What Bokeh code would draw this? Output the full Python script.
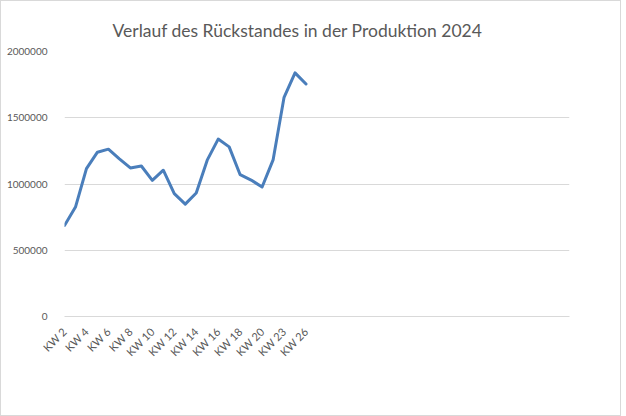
import math
from bokeh.plotting import figure
from bokeh.models import Range1d, FixedTicker, Title
from bokeh.embed import file_html
from bokeh.resources import INLINE

# ---- data ----
weeks = ["KW 2", "KW 3", "KW 4", "KW 5", "KW 6", "KW 7", "KW 8", "KW 9", "KW 10",
         "KW 11", "KW 12", "KW 13", "KW 14", "KW 15", "KW 16", "KW 17", "KW 18",
         "KW 19", "KW 20", "KW 22", "KW 23", "KW 25", "KW 26"]
rueckstand = [687000, 826000, 1116000, 1240000, 1263000, 1190000, 1121000, 1136000,
              1028000, 1104000, 927000, 848000, 932000, 1180000, 1339000, 1280000,
              1070000, 1030000, 977000, 1182000, 1654000, 1839000, 1755000]
y_ticks = [0, 500000, 1000000, 1500000, 2000000]
title_text = "Verlauf des Rückstandes in der Produktion 2024"

# category slots on the axis (remaining slots are empty rows)
n_slots = 47
FONT = "Lato"
GREY = "#595959"
GRID = "#d9d9d9"

x = list(range(len(weeks)))

p = figure(width=621, height=416, output_backend="svg", toolbar_location=None,
           x_range=Range1d(0, n_slots - 1), y_range=Range1d(0, 2000000),
           min_border_left=63, min_border_right=53, min_border_top=50,
           min_border_bottom=101, title=None)

t = Title(text=title_text, align="left", offset=48, text_font=FONT,
          text_font_size="17.5px", text_color=GREY, text_font_style="normal",
          standoff=21)
p.add_layout(t, "above")

p.line(x, rueckstand, line_color="#4a7ebb", line_width=3, line_join="round",
       line_cap="round")

p.outline_line_color = None
p.background_fill_color = "white"
p.border_fill_color = "white"
p.styles = {"border": "1px solid #d9d9d9", "box-sizing": "border-box"}

# x axis
p.xaxis.ticker = FixedTicker(ticks=x[::2])
p.xaxis.major_label_overrides = {i: weeks[i] for i in x[::2]}
p.xaxis.major_label_orientation = math.pi / 4
p.xaxis.axis_line_color = GRID
p.xaxis.major_tick_line_color = None
p.xaxis.minor_tick_line_color = None
p.xaxis.major_label_text_font = FONT
p.xaxis.major_label_text_font_size = "11px"
p.xaxis.major_label_text_color = GREY
p.xaxis.major_label_standoff = 7

# y axis
p.yaxis.ticker = FixedTicker(ticks=y_ticks)
p.yaxis.major_label_overrides = {v: str(v) for v in y_ticks}
p.yaxis.axis_line_color = None
p.yaxis.major_tick_line_color = None
p.yaxis.minor_tick_line_color = None
p.yaxis.major_label_text_font = FONT
p.yaxis.major_label_text_font_size = "10px"
p.yaxis.major_label_text_color = GREY
p.yaxis.major_label_standoff = 11

p.xgrid.grid_line_color = None
p.ygrid.grid_line_color = GRID
p.ygrid.grid_line_width = 1

open("out.html", "w").write(file_html(p, INLINE))
